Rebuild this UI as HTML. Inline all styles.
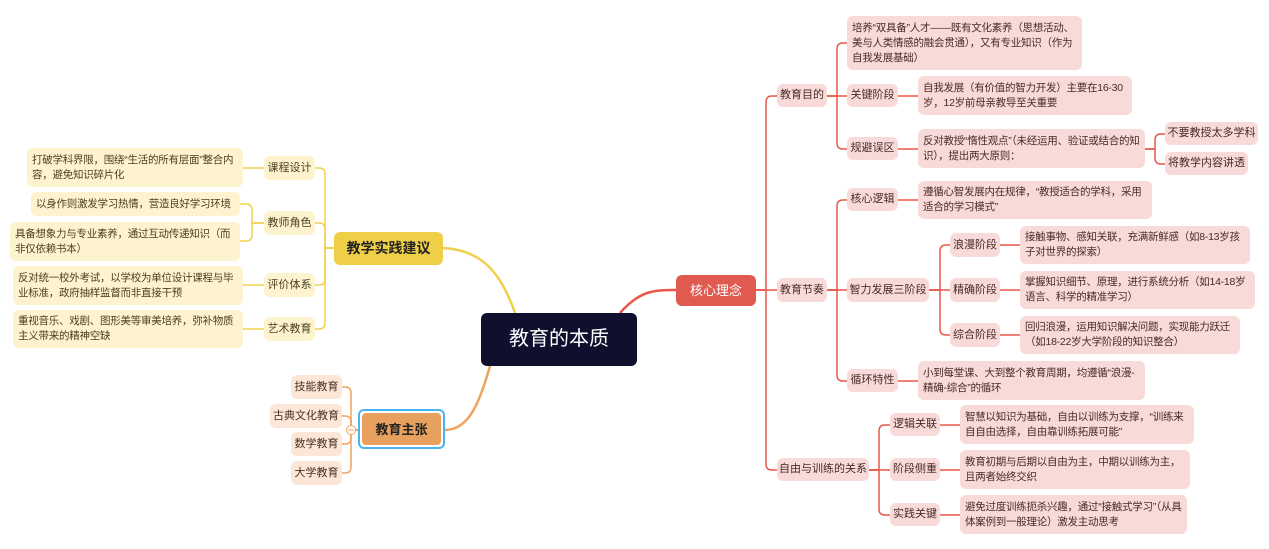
<!DOCTYPE html>
<html><head><meta charset="utf-8"><style>
body{margin:0;width:1269px;height:549px;background:#fff;position:relative;overflow:hidden;font-family:"Liberation Sans","Noto Sans CJK SC",sans-serif}
.n{position:absolute;box-sizing:border-box;border-radius:6px;font-size:10.5px;line-height:15px;display:flex;align-items:center;padding:0 3px 0 5px;letter-spacing:-0.25px}
.r{background:#f8dad8;color:#4a2a2a}
.y{background:#fdf3cf;color:#4a3f20}
.o{background:#fbe6d8;color:#4a3020}
.c{justify-content:center;white-space:nowrap;padding:0;font-size:11px;letter-spacing:0}
svg{position:absolute;left:0;top:0}
</style></head><body>
<svg id="s" width="1269" height="549"></svg>
<div class="n c" style="left:481px;top:313px;width:156px;height:53px;background:#10102e;color:#fff;font-size:20px;border-radius:6px">教育的本质</div>
<div class="n c" style="left:676px;top:275px;width:80px;height:31px;background:#e05a4f;color:#fff;font-size:13px">核心理念</div>
<div class="n c" style="left:334px;top:232px;width:109px;height:33px;background:#efcf48;color:#222;font-size:14px;font-weight:bold">教学实践建议</div>
<div class="n c" style="left:358px;top:409px;width:87px;height:40px;border:2px solid #4ab4f0;background:#fff;padding:2px;border-radius:6px"><div style="width:100%;height:100%;background:#e8a05e;border-radius:4px;display:flex;align-items:center;justify-content:center;font-size:13px;font-weight:bold;color:#222">教育主张</div></div>

<div class="n r c" style="left:777px;top:84px;width:50px;height:23px">教育目的</div>
<div class="n r c" style="left:777px;top:278px;width:50px;height:24px">教育节奏</div>
<div class="n r c" style="left:777px;top:458px;width:92px;height:23px">自由与训练的关系</div>
<div class="n r" style="left:847px;top:16px;width:235px;height:54px">培养“双具备”人才——既有文化素养（思想活动、美与人类情感的融会贯通），又有专业知识（作为自我发展基础）</div>
<div class="n r c" style="left:847px;top:84px;width:51px;height:23px">关键阶段</div>
<div class="n r" style="left:918px;top:76px;width:214px;height:39px">自我发展（有价值的智力开发）主要在16-30岁，12岁前母亲教导至关重要</div>
<div class="n r c" style="left:847px;top:137px;width:51px;height:23px">规避误区</div>
<div class="n r" style="left:918px;top:129px;width:227px;height:39px">反对教授“惰性观点”（未经运用、验证或结合的知识），提出两大原则：</div>
<div class="n r c" style="left:1165px;top:122px;width:93px;height:23px">不要教授太多学科</div>
<div class="n r c" style="left:1165px;top:152px;width:83px;height:23px">将教学内容讲透</div>
<div class="n r c" style="left:847px;top:188px;width:51px;height:23px">核心逻辑</div>
<div class="n r" style="left:918px;top:181px;width:234px;height:38px">遵循心智发展内在规律，“教授适合的学科，采用适合的学习模式”</div>
<div class="n r c" style="left:847px;top:278px;width:82px;height:24px">智力发展三阶段</div>
<div class="n r c" style="left:950px;top:233px;width:50px;height:24px">浪漫阶段</div>
<div class="n r" style="left:1020px;top:226px;width:230px;height:38px">接触事物、感知关联，充满新鲜感（如8-13岁孩子对世界的探索）</div>
<div class="n r c" style="left:950px;top:278px;width:50px;height:24px">精确阶段</div>
<div class="n r" style="left:1020px;top:271px;width:235px;height:38px">掌握知识细节、原理，进行系统分析（如14-18岁语言、科学的精准学习）</div>
<div class="n r c" style="left:950px;top:323px;width:50px;height:24px">综合阶段</div>
<div class="n r" style="left:1020px;top:316px;width:220px;height:38px">回归浪漫，运用知识解决问题，实现能力跃迁（如18-22岁大学阶段的知识整合）</div>
<div class="n r c" style="left:847px;top:369px;width:51px;height:23px">循环特性</div>
<div class="n r" style="left:918px;top:361px;width:227px;height:39px">小到每堂课、大到整个教育周期，均遵循“浪漫-精确-综合”的循环</div>
<div class="n r c" style="left:890px;top:413px;width:50px;height:23px">逻辑关联</div>
<div class="n r" style="left:960px;top:405px;width:234px;height:39px">智慧以知识为基础，自由以训练为支撑，“训练来自自由选择，自由靠训练拓展可能”</div>
<div class="n r c" style="left:890px;top:458px;width:50px;height:23px">阶段侧重</div>
<div class="n r" style="left:960px;top:450px;width:230px;height:39px">教育初期与后期以自由为主，中期以训练为主，且两者始终交织</div>
<div class="n r c" style="left:890px;top:503px;width:50px;height:23px">实践关键</div>
<div class="n r" style="left:960px;top:495px;width:227px;height:39px">避免过度训练扼杀兴趣，通过“接触式学习”（从具体案例到一般理论）激发主动思考</div>

<div class="n y c" style="left:264px;top:156px;width:51px;height:24px">课程设计</div>
<div class="n y" style="left:27px;top:148px;width:216px;height:39px">打破学科界限，围绕“生活的所有层面”整合内容，避免知识碎片化</div>
<div class="n y c" style="left:264px;top:211px;width:51px;height:24px">教师角色</div>
<div class="n y" style="left:31px;top:192px;width:209px;height:24px;white-space:nowrap">以身作则激发学习热情，营造良好学习环境</div>
<div class="n y" style="left:10px;top:222px;width:230px;height:39px">具备想象力与专业素养，通过互动传递知识（而非仅依赖书本）</div>
<div class="n y c" style="left:264px;top:273px;width:51px;height:24px">评价体系</div>
<div class="n y" style="left:13px;top:266px;width:230px;height:39px">反对统一校外考试，以学校为单位设计课程与毕业标准，政府抽样监督而非直接干预</div>
<div class="n y c" style="left:264px;top:317px;width:51px;height:24px">艺术教育</div>
<div class="n y" style="left:13px;top:310px;width:230px;height:38px">重视音乐、戏剧、图形美等审美培养，弥补物质主义带来的精神空缺</div>
<div class="n o c" style="left:291px;top:375px;width:51px;height:24px">技能教育</div>
<div class="n o c" style="left:270px;top:404px;width:72px;height:24px">古典文化教育</div>
<div class="n o c" style="left:291px;top:432px;width:51px;height:24px">数学教育</div>
<div class="n o c" style="left:291px;top:461px;width:51px;height:24px">大学教育</div>
<script>
var s=document.getElementById('s'),h='';
function P(d,c,w){h+='<path d="'+d+'" fill="none" stroke="'+c+'" stroke-width="'+(w||1.5)+'"/>';}
function E(x1,y1,mx,x2,y2,c){var r=6,dir=x2>mx?1:-1;
 if(Math.abs(y2-y1)<1){P('M'+x1+' '+y1+'H'+x2,c);return;}
 var sy=y2>y1?1:-1;
 P('M'+x1+' '+y1+'H'+mx+'V'+(y2-sy*r)+'Q'+mx+' '+y2+' '+(mx+dir*r)+' '+y2+'H'+x2,c);}
var R='#e8574a',Y='#f0d04a',O='#eea35e';
P('M620 313C640 290 655 290 676 290',R,2.5);
P('M443 248C480 250 500 270 515 313',Y,2.5);
P('M445 430C470 430 480 400 490 366',O,2.5);
[96,290,470].forEach(function(y){E(756,290,766,777,y,R)});
[43,96,149].forEach(function(y){E(827,96,837,847,y,R)});
E(898,96,908,918,96,R);E(898,149,908,918,149,R);
[134,164].forEach(function(y){E(1145,149,1155,1165,y,R)});
[200,290,381].forEach(function(y){E(827,290,837,847,y,R)});
E(898,200,908,918,200,R);E(898,381,908,918,381,R);
[245,290,335].forEach(function(y){E(929,290,940,950,y,R)});
[245,290,335].forEach(function(y){E(1000,y,1010,1020,y,R)});
[425,470,515].forEach(function(y){E(869,470,879,890,y,R)});
[425,470,515].forEach(function(y){E(940,y,950,960,y,R)});
[168,223,285,329].forEach(function(y){E(334,248,325,315,y,Y)});
E(264,168,254,243,168,Y);E(264,285,254,243,285,Y);E(264,329,254,243,329,Y);
[204,241].forEach(function(y){E(264,223,252,240,y,Y)});
[387,416,444,473].forEach(function(y){E(358,430,351,342,y,O)});
h+='<circle cx="351" cy="430" r="4.5" fill="#fff" stroke="'+O+'" stroke-width="1"/><path d="M348 430H354" stroke="'+O+'"/>';
s.innerHTML=h;
</script>
</body></html>
